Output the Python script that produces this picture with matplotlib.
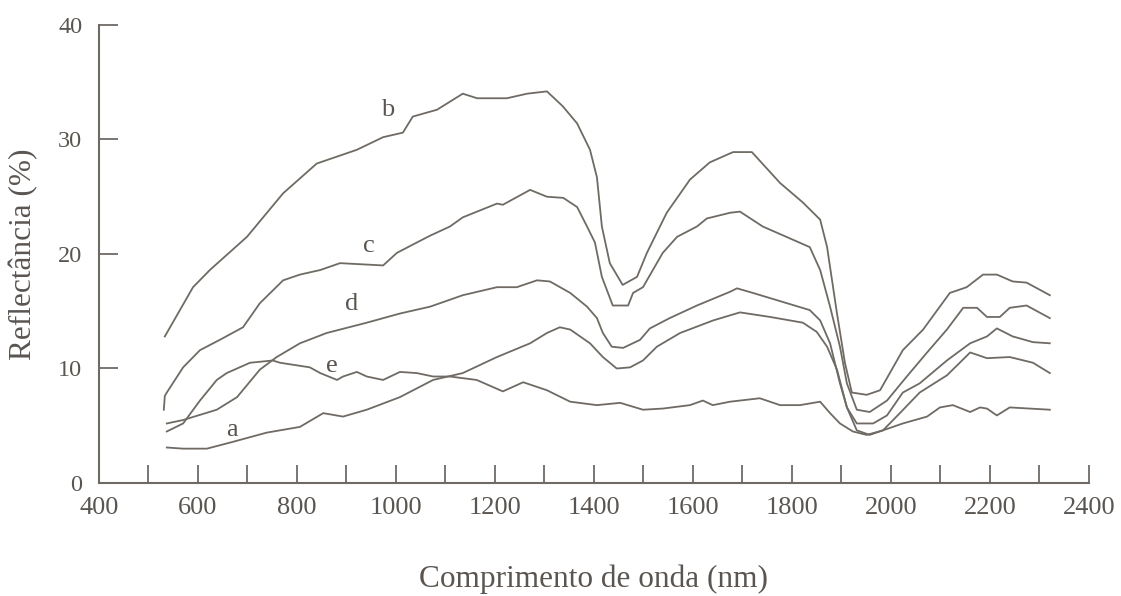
import numpy as np
import matplotlib
matplotlib.use("Agg")
import matplotlib.pyplot as plt

# curve data (wavelength nm, reflectance %)
b_x = [533, 590, 624, 699, 772, 840, 921, 974, 1014, 1034, 1083, 1135, 1164, 1224, 1265, 1305, 1337,
       1366, 1392, 1406, 1416, 1432, 1458, 1487, 1507, 1547, 1594, 1634, 1681, 1719, 1776, 1822, 1857,
       1871, 1891, 1907, 1921, 1951, 1978, 2024, 2065, 2119, 2153, 2186, 2214, 2246, 2274, 2321]
b_y = [12.8, 17.1, 18.6, 21.5, 25.3, 27.9, 29.1, 30.2, 30.6, 32.0, 32.6, 34.0, 33.6, 33.6, 34.0, 34.2, 32.9,
       31.4, 29.1, 26.7, 22.4, 19.2, 17.3, 18.0, 20.1, 23.6, 26.5, 28.0, 28.9, 28.9, 26.2, 24.5, 23.0,
       20.6, 14.8, 10.5, 7.9, 7.7, 8.1, 11.6, 13.4, 16.6, 17.1, 18.2, 18.2, 17.6, 17.5, 16.4]

c_x = [531, 533, 537, 570, 604, 644, 691, 725, 772, 806, 847, 887, 974, 1002, 1042, 1069, 1109, 1135,
       1204, 1216, 1271, 1305, 1338, 1366, 1386, 1402, 1416, 1438, 1469, 1479, 1499, 1539, 1568, 1608,
       1628, 1675, 1695, 1741, 1836, 1857, 1877, 1897, 1911, 1931, 1957, 1992, 2032, 2073, 2113, 2146,
       2174, 2194, 2220, 2240, 2274, 2321]
c_y = [6.4, 7.6, 7.9, 10.1, 11.6, 12.5, 13.6, 15.7, 17.7, 18.2, 18.6, 19.2, 19.0, 20.1, 21.0, 21.6, 22.4, 23.2,
       24.4, 24.3, 25.6, 25.0, 24.9, 24.1, 22.4, 21.0, 18.0, 15.5, 15.5, 16.6, 17.1, 20.1, 21.5, 22.4,
       23.1, 23.6, 23.7, 22.4, 20.6, 18.6, 15.4, 11.9, 8.7, 6.4, 6.2, 7.2, 9.3, 11.4, 13.4, 15.3,
       15.3, 14.5, 14.5, 15.3, 15.5, 14.4]

d_x = [537, 570, 638, 679, 725, 759, 806, 860, 941, 1008, 1069, 1135, 1204, 1244, 1285, 1311, 1352, 1386,
       1406, 1418, 1436, 1459, 1493, 1513, 1553, 1608, 1675, 1689, 1721, 1790, 1836, 1857, 1877, 1897,
       1911, 1931, 1964, 1992, 2024, 2058, 2113, 2160, 2194, 2214, 2246, 2287, 2321]
d_y = [5.2, 5.5, 6.4, 7.5, 9.9, 11.0, 12.2, 13.1, 14.0, 14.8, 15.4, 16.4, 17.1, 17.1, 17.7, 17.6, 16.6, 15.4,
       14.4, 13.1, 11.9, 11.8, 12.5, 13.5, 14.4, 15.5, 16.7, 17.0, 16.6, 15.7, 15.1, 14.2, 12.2, 8.7,
       6.6, 5.2, 5.2, 5.9, 7.9, 8.7, 10.7, 12.2, 12.8, 13.5, 12.8, 12.3, 12.2]

e_x = [537, 570, 604, 638, 658, 705, 751, 766, 826, 847, 881, 893, 921, 941, 974, 1008, 1042, 1075, 1109,
       1163, 1216, 1257, 1305, 1352, 1406, 1453, 1499, 1539, 1594, 1620, 1640, 1675, 1735, 1776, 1816,
       1857, 1877, 1897, 1923, 1951, 1984, 2024, 2073, 2099, 2125, 2160, 2180, 2194, 2214, 2240, 2321]
e_y = [4.5, 5.2, 7.2, 9.0, 9.6, 10.5, 10.7, 10.5, 10.1, 9.6, 9.0, 9.3, 9.7, 9.3, 9.0, 9.7, 9.6, 9.3, 9.3,
       9.0, 8.0, 8.8, 8.1, 7.1, 6.8, 7.0, 6.4, 6.5, 6.8, 7.2, 6.8, 7.1, 7.4, 6.8, 6.8,
       7.1, 6.1, 5.2, 4.5, 4.2, 4.6, 5.2, 5.8, 6.6, 6.8, 6.2, 6.6, 6.5, 5.9, 6.6, 6.4]

a_x = [537, 570, 618, 671, 739, 806, 853, 893, 941, 1008, 1075, 1135, 1204, 1271, 1305, 1331, 1352, 1392,
       1418, 1446, 1473, 1499, 1527, 1574, 1641, 1695, 1756, 1822, 1850, 1871, 1891, 1911, 1931, 1957,
       1984, 2018, 2058, 2113, 2139, 2160, 2194, 2240, 2287, 2321]
a_y = [3.1, 3.0, 3.0, 3.6, 4.4, 4.9, 6.1, 5.8, 6.4, 7.5, 9.0, 9.6, 11.0, 12.2, 13.1, 13.6, 13.4, 12.2,
       11.0, 10.0, 10.1, 10.7, 11.9, 13.1, 14.2, 14.9, 14.5, 14.0, 13.2, 11.9, 9.9, 6.6, 4.6, 4.2,
       4.6, 6.1, 7.9, 9.4, 10.5, 11.4, 10.9, 11.0, 10.5, 9.6]

curve_names = ["a", "b", "c", "d", "e"]
curves = {"a": (a_x, a_y), "b": (b_x, b_y), "c": (c_x, c_y), "d": (d_x, d_y), "e": (e_x, e_y)}
# where the letters sit next to each curve
label_pos = {"a": (669, 4.6), "b": (984, 32.6), "c": (946, 20.7), "d": (911, 15.6), "e": (871, 10.2)}

xticks_major = [400, 600, 800, 1000, 1200, 1400, 1600, 1800, 2000, 2200, 2400]
xticks_minor = [500, 700, 900, 1100, 1300, 1500, 1700, 1900, 2100, 2300]
yticks = [0, 10, 20, 30, 40]

line_col = "#6f6a64"
text_col = "#5a5550"

plt.rcParams["font.family"] = ["Liberation Serif", "DejaVu Serif"]

fig = plt.figure(figsize=(11.21, 5.96), dpi=100)
ax = fig.add_axes([0.0883, 0.1896, 0.8831, 0.7685])

for name in curve_names:
    xs, ys = curves[name]
    ax.plot(xs, ys, color=line_col, lw=1.3)
    lx, ly = label_pos[name]
    ax.text(lx, ly, name, color=text_col, fontsize=19, ha="center", va="center")

ax.set_xlim(400, 2400)
ax.set_ylim(0, 40)

for s in ["top", "right"]:
    ax.spines[s].set_visible(False)
for s in ["left", "bottom"]:
    ax.spines[s].set_color(line_col)
    ax.spines[s].set_linewidth(1.5)

ax.set_xticks(xticks_major)
ax.set_xticks(xticks_minor, minor=True)
ax.set_yticks(yticks)
ax.tick_params(axis="x", which="both", direction="in", length=13, width=1.3,
               color=line_col, labelcolor=text_col, labelsize=19, pad=10)
ax.tick_params(axis="y", direction="in", length=14, width=1.3,
               color=line_col, labelcolor=text_col, labelsize=17.5, pad=12)

ax.set_xlabel("Comprimento de onda (nm)", fontsize=22.5, color=text_col, labelpad=33)
ax.set_ylabel("Reflectância (%)", fontsize=22.5, color=text_col, labelpad=14)

fig.savefig("out.png", dpi=100)
